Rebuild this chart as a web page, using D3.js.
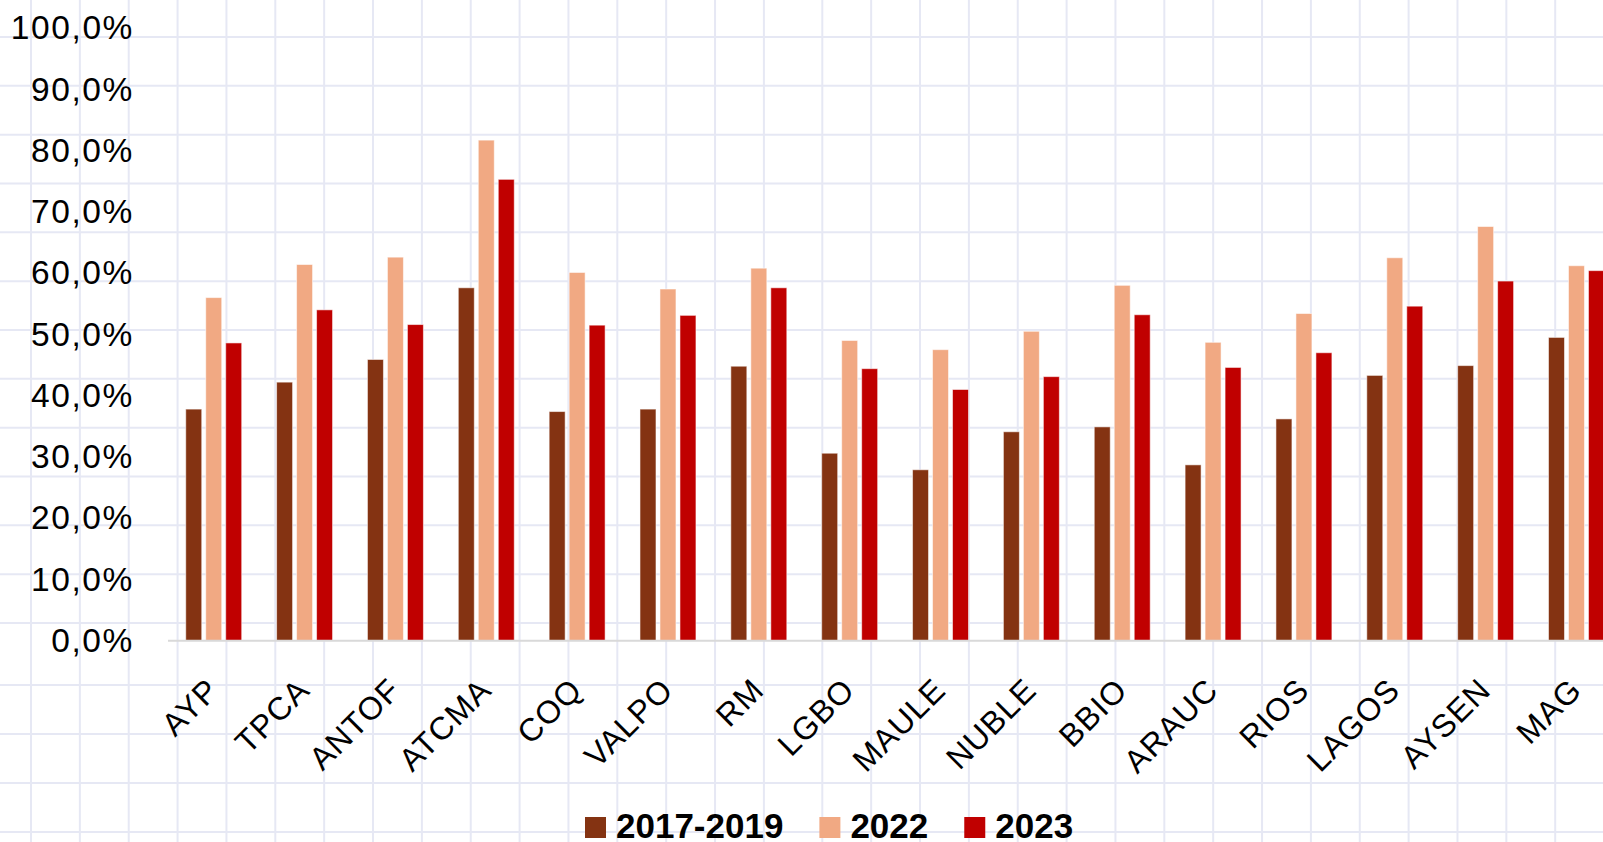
<!DOCTYPE html>
<html>
<head>
<meta charset="utf-8">
<script src="https://cdn.jsdelivr.net/npm/d3@7"></script>
<style>
  body { margin: 0; background: #fff; overflow: hidden; }
  svg { display: block; font-family: "Liberation Sans", Arial, sans-serif; }
</style>
</head>
<body>
<svg id="chart" width="1603" height="842"></svg>
<script>
var categories = ["AYP", "TPCA", "ANTOF", "ATCMA", "COQ", "VALPO", "RM", "LGBO",
                  "MAULE", "NUBLE", "BBIO", "ARAUC", "RIOS", "LAGOS", "AYSEN", "MAG"];
var seriesNames = ["2017-2019", "2022", "2023"];
var values1719 = [37.8, 42.2, 45.9, 57.6, 37.4, 37.8, 44.8, 30.6, 27.9, 34.1, 34.9, 28.7, 36.2, 43.3, 44.9, 49.5];
var values2022 = [56.0, 61.4, 62.6, 81.7, 60.1, 57.4, 60.8, 49.0, 47.5, 50.5, 58.0, 48.7, 53.4, 62.5, 67.6, 61.2];
var values2023 = [48.6, 54.0, 51.6, 75.3, 51.5, 53.1, 57.6, 44.4, 41.0, 43.1, 53.2, 44.6, 47.0, 54.6, 58.7, 60.4];
var yTicks = [0, 10, 20, 30, 40, 50, 60, 70, 80, 90, 100];
var colors = ["#843312", "#f1a983", "#c00000"];

var width = 1603, height = 842;
var svg = d3.select("#chart");

// graph paper background (the sheet has a seam near the axis)
var vLines = d3.range(31, 770, 48.86).concat(d3.range(822.3, 1610, 48.86));
var hLines = d3.range(37, 630, 48.83).concat(d3.range(685, 850, 49));
var grid = svg.append("g").attr("class", "grid")
    .attr("stroke", "#e6e8f4").attr("stroke-width", 2);
grid.selectAll(".v").data(vLines).enter().append("line")
    .attr("x1", function(d) { return d; }).attr("x2", function(d) { return d; })
    .attr("y1", 0).attr("y2", height);
grid.selectAll(".h").data(hLines).enter().append("line")
    .attr("y1", function(d) { return d; }).attr("y2", function(d) { return d; })
    .attr("x1", 0).attr("x2", width);

// build rows for the grouped bars
var data = categories.map(function(c, i) {
    return { cat: c, vals: [values1719[i], values2022[i], values2023[i]] };
});

// the plot runs past the right edge of the picture
var x0 = d3.scaleBand()
    .domain(categories)
    .range([168.3, 168.3 + 90.85 * categories.length])
    .paddingInner(0.384)
    .paddingOuter(0.192);
var x1 = d3.scaleBand()
    .domain(seriesNames)
    .range([0, x0.bandwidth()])
    .paddingInner(0.2);
var y = d3.scaleLinear()
    .domain([0, 100])
    .range([640.7, 28]);

var fmt = d3.formatLocale({ decimal: ",", thousands: ".", grouping: [3], currency: ["", ""] }).format(".1f");

// y axis labels only
var yAxis = svg.append("g")
    .attr("transform", "translate(168,0)")
    .call(d3.axisLeft(y).tickValues(yTicks).tickSize(0).tickPadding(34)
        .tickFormat(function(d) { return fmt(d) + "%"; }));
yAxis.select(".domain").remove();
yAxis.selectAll("text")
    .attr("fill", "#000")
    .style("font-size", "33.5px")
    .style("letter-spacing", "1.6px")
    .style("font-family", "'Liberation Sans', Arial, sans-serif");

// bars
var groups = svg.selectAll(".grp")
    .data(data)
  .enter().append("g")
    .attr("class", "grp")
    .attr("transform", function(d) { return "translate(" + x0(d.cat) + ",0)"; });
groups.selectAll("rect")
    .data(function(d) { return d.vals.map(function(v, k) { return { key: seriesNames[k], value: v, k: k }; }); })
  .enter().append("rect")
    .attr("x", function(d) { return x1(d.key); })
    .attr("width", x1.bandwidth())
    .attr("y", function(d) { return y(d.value); })
    .attr("height", function(d) { return y(0) - y(d.value); })
    .attr("fill", function(d) { return colors[d.k]; })
    .attr("stroke", "rgba(255,255,255,0.55)")
    .attr("stroke-width", 1);

// baseline
svg.append("line")
    .attr("x1", 168).attr("x2", width)
    .attr("y1", y(0)).attr("y2", y(0))
    .attr("stroke", "#d9d9d9").attr("stroke-width", 2);

// category labels, rotated
svg.append("g").selectAll("text")
    .data(categories)
  .enter().append("text")
    .attr("transform", function(d) {
        return "translate(" + (x0(d) + x0.bandwidth() / 2 + 7) + ",692) rotate(-45)";
    })
    .attr("text-anchor", "end")
    .style("font-size", "32px")
    .style("letter-spacing", "1px")
    .attr("fill", "#000")
    .text(function(d) { return d; });

// legend
var legend = svg.append("g").attr("class", "legend");
var lx = 585;
seriesNames.forEach(function(s, k) {
    legend.append("rect")
        .attr("x", lx).attr("y", 817)
        .attr("width", 21).attr("height", 21)
        .attr("fill", colors[k]);
    var t = legend.append("text")
        .attr("x", lx + 31).attr("y", 838)
        .style("font-size", "35px")
        .style("font-weight", "bold")
        .attr("fill", "#000")
        .text(s);
    lx = lx + 31 + t.node().getComputedTextLength() + 36;
});
</script>
</body>
</html>
